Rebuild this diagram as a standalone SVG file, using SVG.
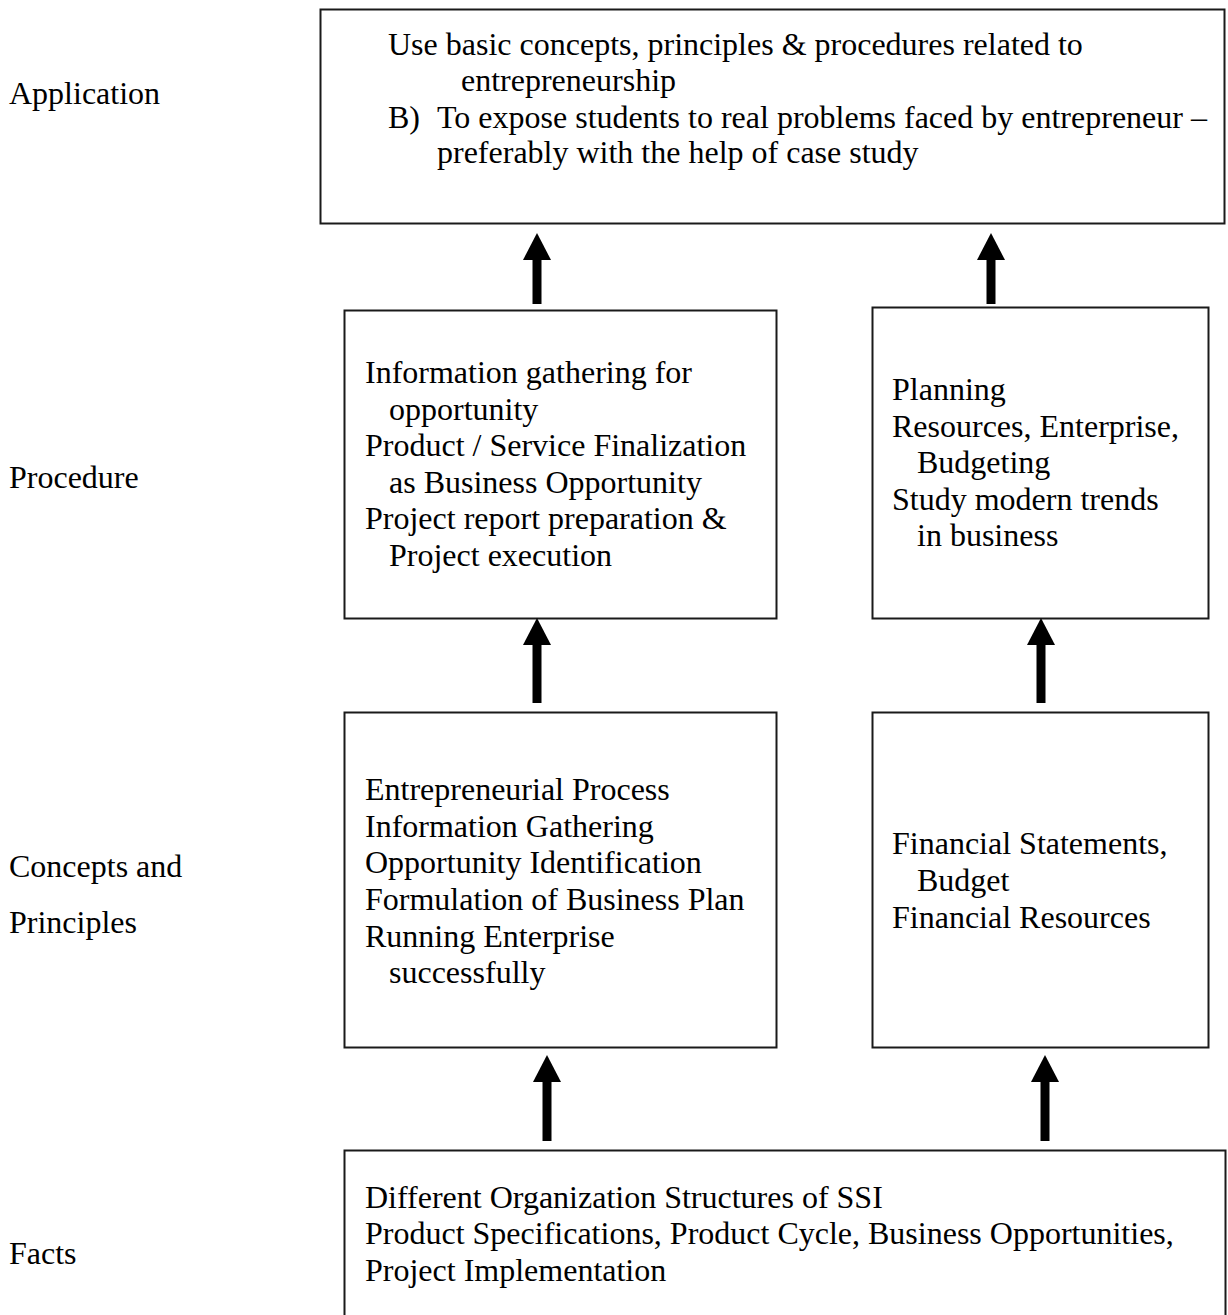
<svg xmlns="http://www.w3.org/2000/svg" width="1228" height="1315" viewBox="0 0 1228 1315">
<style>
  text { font-family: "Liberation Serif", "Times New Roman", serif; font-size: 32px; fill: #000; }
  .box { fill: #fff; stroke: #1a1a1a; stroke-width: 2; }
  .arrow { stroke: #000; stroke-width: 9; fill: none; marker-end: url(#head); }
</style>
<defs>
  <marker id="head" markerUnits="userSpaceOnUse" markerWidth="28" markerHeight="28" refX="0" refY="14" orient="auto">
    <path d="M0,0 L27,14 L0,28 Z" fill="#000"/>
  </marker>
</defs>
<rect width="1228" height="1315" fill="#fff"/>

<g id="labels">
  <text x="9" y="104">Application</text>
  <text x="9" y="488">Procedure</text>
  <text x="9" y="877">Concepts and</text>
  <text x="9" y="933">Principles</text>
  <text x="9" y="1264">Facts</text>
</g>

<g id="application">
  <rect class="box" x="320.5" y="9.5" width="904" height="214"/>
  <text x="388" y="55">Use basic concepts, principles &amp; procedures related to</text>
  <text x="461" y="91">entrepreneurship</text>
  <text x="388" y="128">B)</text>
  <text x="437" y="128">To expose students to real problems faced by entrepreneur –</text>
  <text x="437" y="163">preferably with the help of case study</text>
</g>

<g id="procedure-left">
  <rect class="box" x="344.5" y="310.5" width="432" height="308"/>
  <text x="365" y="383">Information gathering for</text>
  <text x="389" y="419.5">opportunity</text>
  <text x="365" y="456">Product / Service Finalization</text>
  <text x="389" y="492.5">as Business Opportunity</text>
  <text x="365" y="529">Project report preparation &amp;</text>
  <text x="389" y="565.5">Project execution</text>
</g>

<g id="procedure-right">
  <rect class="box" x="872.5" y="307.5" width="336" height="311"/>
  <text x="892" y="400">Planning</text>
  <text x="892" y="436.5">Resources, Enterprise,</text>
  <text x="917" y="473">Budgeting</text>
  <text x="892" y="509.5">Study modern trends</text>
  <text x="917" y="546">in business</text>
</g>

<g id="concepts-left">
  <rect class="box" x="344.5" y="712.5" width="432" height="335"/>
  <text x="365" y="800">Entrepreneurial Process</text>
  <text x="365" y="837">Information Gathering</text>
  <text x="365" y="873">Opportunity Identification</text>
  <text x="365" y="910">Formulation of Business Plan</text>
  <text x="365" y="947">Running Enterprise</text>
  <text x="389" y="983">successfully</text>
</g>

<g id="concepts-right">
  <rect class="box" x="872.5" y="712.5" width="336" height="335"/>
  <text x="892" y="854">Financial Statements,</text>
  <text x="917" y="891">Budget</text>
  <text x="892" y="928">Financial Resources</text>
</g>

<g id="facts">
  <rect class="box" x="344.5" y="1150.5" width="881" height="180"/>
  <text x="365" y="1208">Different Organization Structures of SSI</text>
  <text x="365" y="1244">Product Specifications, Product Cycle, Business Opportunities,</text>
  <text x="365" y="1281">Project Implementation</text>
</g>

<g id="connectors">
  <line class="arrow" x1="537" y1="304" x2="537" y2="260"/>
  <line class="arrow" x1="991" y1="304" x2="991" y2="260"/>
  <line class="arrow" x1="537" y1="703" x2="537" y2="645"/>
  <line class="arrow" x1="1041" y1="703" x2="1041" y2="645"/>
  <line class="arrow" x1="547" y1="1141" x2="547" y2="1082"/>
  <line class="arrow" x1="1045" y1="1141" x2="1045" y2="1082"/>
</g>
</svg>
